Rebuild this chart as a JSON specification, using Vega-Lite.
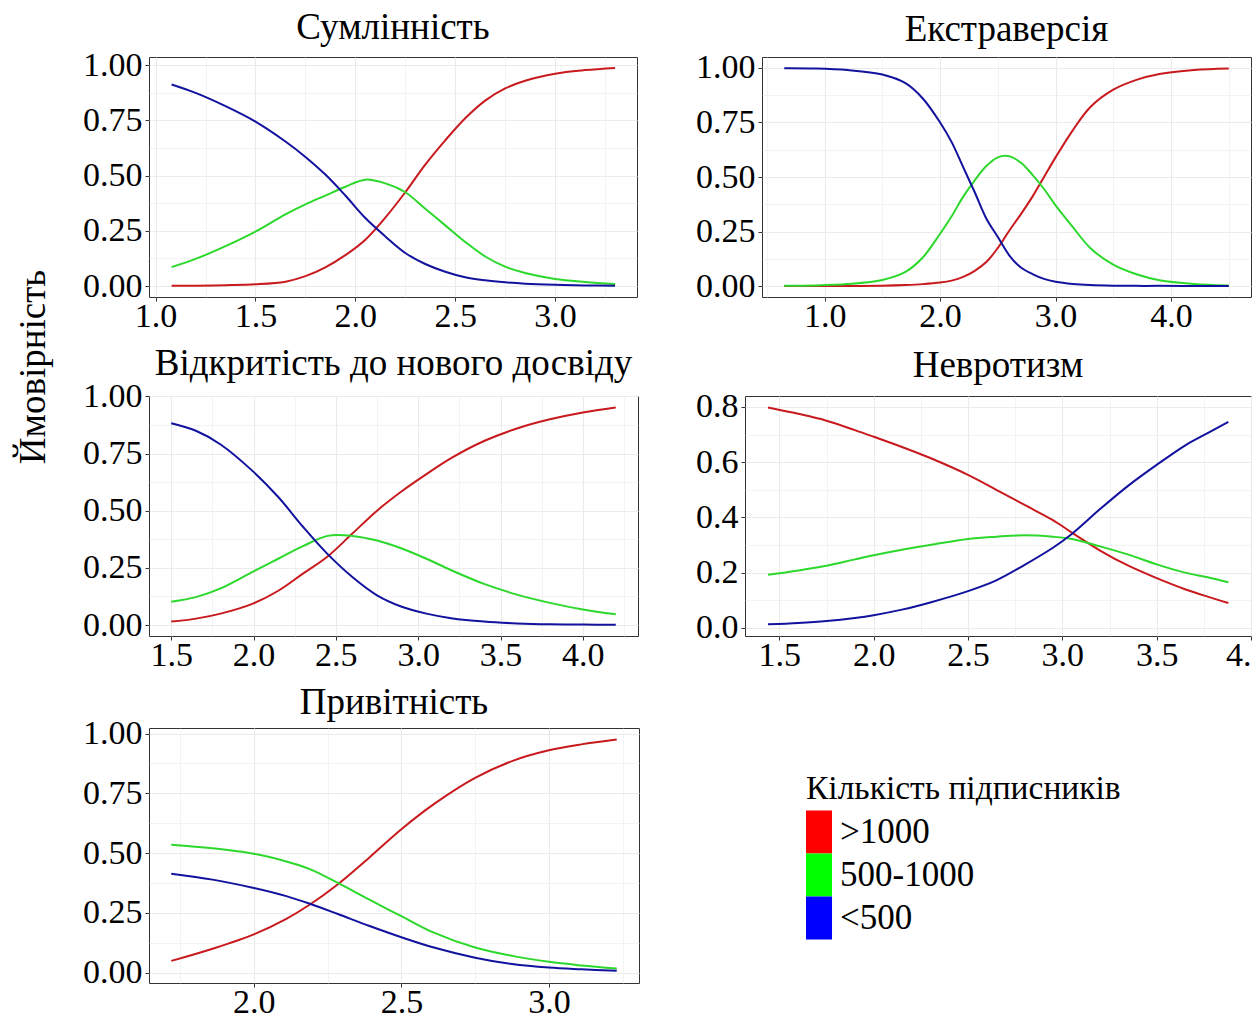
{
  "$schema": "https://vega.github.io/schema/vega-lite/v6.json",
  "background": "white",
  "padding": {"left": 14, "top": 8, "right": 0, "bottom": 0},
  "autosize": {"type": "pad"},
  "bounds": "full",
  "columns": 2,
  "align": {"row": "each", "column": "none"},
  "spacing": {"row": 10, "column": 55},
  "title": {"text": "Ймовірність", "orient": "left", "anchor": "middle", "dx": -310, "offset": 29, "fontSize": 37},
  "datasets": {
    "p1": [
      {"x": 1.08, "hi": 0.001, "mid": 0.086, "lo": 0.913},
      {"x": 1.2, "hi": 0.002, "mid": 0.123, "lo": 0.875},
      {"x": 1.35, "hi": 0.004, "mid": 0.181, "lo": 0.815},
      {"x": 1.5, "hi": 0.008, "mid": 0.247, "lo": 0.745},
      {"x": 1.65, "hi": 0.02, "mid": 0.325, "lo": 0.655},
      {"x": 1.75, "hi": 0.045, "mid": 0.37, "lo": 0.585},
      {"x": 1.85, "hi": 0.085, "mid": 0.41, "lo": 0.505},
      {"x": 1.95, "hi": 0.14, "mid": 0.45, "lo": 0.41},
      {"x": 2.05, "hi": 0.21, "mid": 0.482, "lo": 0.308},
      {"x": 2.15, "hi": 0.31, "mid": 0.465, "lo": 0.225},
      {"x": 2.25, "hi": 0.425, "mid": 0.425, "lo": 0.15},
      {"x": 2.35, "hi": 0.55, "mid": 0.35, "lo": 0.1},
      {"x": 2.45, "hi": 0.66, "mid": 0.275, "lo": 0.065},
      {"x": 2.55, "hi": 0.76, "mid": 0.2, "lo": 0.04},
      {"x": 2.65, "hi": 0.84, "mid": 0.134, "lo": 0.026},
      {"x": 2.75, "hi": 0.895, "mid": 0.088, "lo": 0.017},
      {"x": 2.85, "hi": 0.93, "mid": 0.059, "lo": 0.011},
      {"x": 3.0, "hi": 0.962, "mid": 0.032, "lo": 0.006},
      {"x": 3.15, "hi": 0.978, "mid": 0.019, "lo": 0.003},
      {"x": 3.3, "hi": 0.988, "mid": 0.01, "lo": 0.002}
    ],
    "p2": [
      {"x": 0.65, "hi": 0.0, "mid": 0.002, "lo": 0.998},
      {"x": 0.9, "hi": 0.0, "mid": 0.003, "lo": 0.997},
      {"x": 1.2, "hi": 0.0005, "mid": 0.0095, "lo": 0.99},
      {"x": 1.5, "hi": 0.002, "mid": 0.028, "lo": 0.97},
      {"x": 1.7, "hi": 0.005, "mid": 0.065, "lo": 0.93},
      {"x": 1.85, "hi": 0.009, "mid": 0.131, "lo": 0.86},
      {"x": 2.0, "hi": 0.016, "mid": 0.24, "lo": 0.75},
      {"x": 2.1, "hi": 0.025, "mid": 0.32, "lo": 0.66},
      {"x": 2.2, "hi": 0.042, "mid": 0.41, "lo": 0.545},
      {"x": 2.3, "hi": 0.07, "mid": 0.485, "lo": 0.43},
      {"x": 2.4, "hi": 0.11, "mid": 0.55, "lo": 0.31},
      {"x": 2.5, "hi": 0.175, "mid": 0.59, "lo": 0.225},
      {"x": 2.6, "hi": 0.255, "mid": 0.595, "lo": 0.14},
      {"x": 2.7, "hi": 0.33, "mid": 0.565, "lo": 0.085},
      {"x": 2.8, "hi": 0.41, "mid": 0.51, "lo": 0.055},
      {"x": 2.9, "hi": 0.5, "mid": 0.445, "lo": 0.033},
      {"x": 3.0, "hi": 0.59, "mid": 0.37, "lo": 0.02},
      {"x": 3.15, "hi": 0.715, "mid": 0.27, "lo": 0.01},
      {"x": 3.3, "hi": 0.82, "mid": 0.175, "lo": 0.005},
      {"x": 3.5, "hi": 0.9, "mid": 0.098, "lo": 0.002},
      {"x": 3.7, "hi": 0.945, "mid": 0.054, "lo": 0.001},
      {"x": 3.9, "hi": 0.972, "mid": 0.027, "lo": 0.001},
      {"x": 4.2, "hi": 0.99, "mid": 0.01, "lo": 0.0},
      {"x": 4.5, "hi": 0.997, "mid": 0.003, "lo": 0.0}
    ],
    "p3": [
      {"x": 1.5, "hi": 0.015, "mid": 0.102, "lo": 0.883},
      {"x": 1.65, "hi": 0.028, "mid": 0.122, "lo": 0.85},
      {"x": 1.8, "hi": 0.05, "mid": 0.16, "lo": 0.79},
      {"x": 2.0, "hi": 0.095, "mid": 0.235, "lo": 0.67},
      {"x": 2.15, "hi": 0.15, "mid": 0.29, "lo": 0.56},
      {"x": 2.3, "hi": 0.225, "mid": 0.345, "lo": 0.43},
      {"x": 2.45, "hi": 0.3, "mid": 0.39, "lo": 0.31},
      {"x": 2.6, "hi": 0.4, "mid": 0.39, "lo": 0.21},
      {"x": 2.75, "hi": 0.5, "mid": 0.37, "lo": 0.13},
      {"x": 2.9, "hi": 0.585, "mid": 0.335, "lo": 0.08},
      {"x": 3.05, "hi": 0.66, "mid": 0.29, "lo": 0.05},
      {"x": 3.2, "hi": 0.73, "mid": 0.24, "lo": 0.03},
      {"x": 3.4, "hi": 0.805, "mid": 0.18, "lo": 0.015},
      {"x": 3.6, "hi": 0.86, "mid": 0.133, "lo": 0.007},
      {"x": 3.8, "hi": 0.9, "mid": 0.097, "lo": 0.003},
      {"x": 4.0, "hi": 0.93, "mid": 0.068, "lo": 0.002},
      {"x": 4.2, "hi": 0.952, "mid": 0.047, "lo": 0.001}
    ],
    "p4": [
      {"x": 1.44, "hi": 0.798, "mid": 0.192, "lo": 0.013},
      {"x": 1.6, "hi": 0.775, "mid": 0.208, "lo": 0.018},
      {"x": 1.75, "hi": 0.75, "mid": 0.225, "lo": 0.025},
      {"x": 1.9, "hi": 0.716, "mid": 0.248, "lo": 0.036},
      {"x": 2.0, "hi": 0.692, "mid": 0.263, "lo": 0.046},
      {"x": 2.15, "hi": 0.655, "mid": 0.283, "lo": 0.066},
      {"x": 2.3, "hi": 0.615, "mid": 0.3, "lo": 0.092},
      {"x": 2.5, "hi": 0.554, "mid": 0.322, "lo": 0.133},
      {"x": 2.65, "hi": 0.5, "mid": 0.33, "lo": 0.172},
      {"x": 2.8, "hi": 0.445, "mid": 0.335, "lo": 0.228},
      {"x": 2.95, "hi": 0.39, "mid": 0.33, "lo": 0.29},
      {"x": 3.05, "hi": 0.345, "mid": 0.322, "lo": 0.34},
      {"x": 3.2, "hi": 0.28, "mid": 0.295, "lo": 0.43},
      {"x": 3.35, "hi": 0.225, "mid": 0.265, "lo": 0.515},
      {"x": 3.5, "hi": 0.18, "mid": 0.23, "lo": 0.59},
      {"x": 3.65, "hi": 0.14, "mid": 0.2, "lo": 0.66},
      {"x": 3.77, "hi": 0.113, "mid": 0.183, "lo": 0.705},
      {"x": 3.88, "hi": 0.09, "mid": 0.165, "lo": 0.746}
    ],
    "p5": [
      {"x": 1.72, "hi": 0.049, "mid": 0.535, "lo": 0.414},
      {"x": 1.86, "hi": 0.1, "mid": 0.52, "lo": 0.389},
      {"x": 2.0, "hi": 0.16, "mid": 0.497, "lo": 0.354},
      {"x": 2.11, "hi": 0.225, "mid": 0.465, "lo": 0.32},
      {"x": 2.19, "hi": 0.285, "mid": 0.433, "lo": 0.288},
      {"x": 2.285, "hi": 0.37, "mid": 0.375, "lo": 0.245},
      {"x": 2.39, "hi": 0.48, "mid": 0.306, "lo": 0.196},
      {"x": 2.5, "hi": 0.6, "mid": 0.236, "lo": 0.148},
      {"x": 2.61, "hi": 0.705, "mid": 0.167, "lo": 0.105},
      {"x": 2.75, "hi": 0.815, "mid": 0.105, "lo": 0.0625},
      {"x": 2.875, "hi": 0.885, "mid": 0.07, "lo": 0.036},
      {"x": 3.0, "hi": 0.93, "mid": 0.045, "lo": 0.021},
      {"x": 3.11, "hi": 0.955, "mid": 0.03, "lo": 0.014},
      {"x": 3.23, "hi": 0.975, "mid": 0.017, "lo": 0.008}
    ]
  },
  "concat": [
    {
      "width": 488, "height": 240,
      "title": {"text": "Сумлінність", "offset": 1},
      "data": {"name": "p1"},
      "transform": [{"fold": ["hi", "mid", "lo"], "as": ["g", "p"]}],
      "mark": {"type": "line", "interpolate": "catmull-rom", "strokeWidth": 2},
      "encoding": {
        "x": {"field": "x", "type": "quantitative", "scale": {"domain": [0.967, 3.41], "nice": false, "zero": false},
          "axis": {"title": null, "values": [1, 1.25, 1.5, 1.75, 2, 2.25, 2.5, 2.75, 3, 3.25], "format": ".1f",
            "labelExpr": "abs(datum.value*2-round(datum.value*2))>0.01 ? '' : datum.label",
            "tickOpacity": {"condition": {"test": "abs(datum.value*2-round(datum.value*2))>0.01", "value": 0}, "value": 1},
            "gridWidth": {"condition": {"test": "abs(datum.value*2-round(datum.value*2))>0.01", "value": 0.6}, "value": 1.1}}},
        "y": {"field": "p", "type": "quantitative", "scale": {"domain": [-0.0494, 1.0374], "nice": false, "zero": false},
          "axis": {"title": null, "values": [0, 0.125, 0.25, 0.375, 0.5, 0.625, 0.75, 0.875, 1], "format": ".2f",
            "labelExpr": "abs(datum.value*4-round(datum.value*4))>0.01 ? '' : datum.label",
            "tickOpacity": {"condition": {"test": "abs(datum.value*4-round(datum.value*4))>0.01", "value": 0}, "value": 1},
            "gridWidth": {"condition": {"test": "abs(datum.value*4-round(datum.value*4))>0.01", "value": 0.6}, "value": 1.1}}},
        "color": {"field": "g", "type": "nominal", "scale": {"domain": ["hi", "mid", "lo"], "range": ["#c81a1e", "#2cd82c", "#12129e"]}}
      }
    },
    {
      "width": 489, "height": 240,
      "title": {"text": "Екстраверсія", "offset": 2},
      "data": {"name": "p2"},
      "transform": [{"fold": ["hi", "mid", "lo"], "as": ["g", "p"]}],
      "mark": {"type": "line", "interpolate": "catmull-rom", "strokeWidth": 2},
      "encoding": {
        "x": {"field": "x", "type": "quantitative", "scale": {"domain": [0.4575, 4.6925], "nice": false, "zero": false},
          "axis": {"title": null, "values": [0.5, 1, 1.5, 2, 2.5, 3, 3.5, 4, 4.5], "format": ".1f",
            "labelExpr": "abs(datum.value-round(datum.value))>0.01 ? '' : datum.label",
            "tickOpacity": {"condition": {"test": "abs(datum.value-round(datum.value))>0.01", "value": 0}, "value": 1},
            "gridWidth": {"condition": {"test": "abs(datum.value-round(datum.value))>0.01", "value": 0.6}, "value": 1.1}}},
        "y": {"field": "p", "type": "quantitative", "scale": {"domain": [-0.05, 1.05], "nice": false, "zero": false},
          "axis": {"title": null, "values": [0, 0.125, 0.25, 0.375, 0.5, 0.625, 0.75, 0.875, 1], "format": ".2f",
            "labelExpr": "abs(datum.value*4-round(datum.value*4))>0.01 ? '' : datum.label",
            "tickOpacity": {"condition": {"test": "abs(datum.value*4-round(datum.value*4))>0.01", "value": 0}, "value": 1},
            "gridWidth": {"condition": {"test": "abs(datum.value*4-round(datum.value*4))>0.01", "value": 0.6}, "value": 1.1}}},
        "color": {"field": "g", "type": "nominal", "scale": {"domain": ["hi", "mid", "lo"], "range": ["#c81a1e", "#2cd82c", "#12129e"]}}
      }
    },
    {
      "width": 489, "height": 240,
      "title": {"text": "Відкритість до нового досвіду", "offset": -4},
      "data": {"name": "p3"},
      "transform": [{"fold": ["hi", "mid", "lo"], "as": ["g", "p"]}],
      "mark": {"type": "line", "interpolate": "catmull-rom", "strokeWidth": 2},
      "encoding": {
        "x": {"field": "x", "type": "quantitative", "scale": {"domain": [1.365, 4.335], "nice": false, "zero": false},
          "axis": {"title": null, "values": [1.5, 1.75, 2, 2.25, 2.5, 2.75, 3, 3.25, 3.5, 3.75, 4, 4.25], "format": ".1f",
            "labelExpr": "abs(datum.value*2-round(datum.value*2))>0.01 ? '' : datum.label",
            "tickOpacity": {"condition": {"test": "abs(datum.value*2-round(datum.value*2))>0.01", "value": 0}, "value": 1},
            "gridWidth": {"condition": {"test": "abs(datum.value*2-round(datum.value*2))>0.01", "value": 0.6}, "value": 1.1}}},
        "y": {"field": "p", "type": "quantitative", "scale": {"domain": [-0.048, 1.002], "nice": false, "zero": false},
          "axis": {"title": null, "values": [0, 0.125, 0.25, 0.375, 0.5, 0.625, 0.75, 0.875, 1], "format": ".2f",
            "labelExpr": "abs(datum.value*4-round(datum.value*4))>0.01 ? '' : datum.label",
            "tickOpacity": {"condition": {"test": "abs(datum.value*4-round(datum.value*4))>0.01", "value": 0}, "value": 1},
            "gridWidth": {"condition": {"test": "abs(datum.value*4-round(datum.value*4))>0.01", "value": 0.6}, "value": 1.1}}},
        "color": {"field": "g", "type": "nominal", "scale": {"domain": ["hi", "mid", "lo"], "range": ["#c81a1e", "#2cd82c", "#12129e"]}}
      }
    },
    {
      "width": 506, "height": 240,
      "title": {"text": "Невротизм", "offset": 5},
      "data": {"name": "p4"},
      "transform": [{"fold": ["hi", "mid", "lo"], "as": ["g", "p"]}],
      "mark": {"type": "line", "interpolate": "catmull-rom", "strokeWidth": 2},
      "encoding": {
        "x": {"field": "x", "type": "quantitative", "scale": {"domain": [1.318, 4.0], "nice": false, "zero": false},
          "axis": {"title": null, "values": [1.5, 1.75, 2, 2.25, 2.5, 2.75, 3, 3.25, 3.5, 3.75, 4], "format": ".1f",
            "labelExpr": "datum.value > 3.99 ? '4.' : (abs(datum.value*2-round(datum.value*2))>0.01 ? '' : datum.label)",
            "labelAlign": {"condition": {"test": "datum.value > 3.99", "value": "right"}, "value": "center"},
            "tickOpacity": {"condition": {"test": "abs(datum.value*2-round(datum.value*2))>0.01", "value": 0}, "value": 1},
            "gridWidth": {"condition": {"test": "abs(datum.value*2-round(datum.value*2))>0.01", "value": 0.6}, "value": 1.1}}},
        "y": {"field": "p", "type": "quantitative", "scale": {"domain": [-0.0295, 0.8395], "nice": false, "zero": false},
          "axis": {"title": null, "values": [0, 0.1, 0.2, 0.3, 0.4, 0.5, 0.6, 0.7, 0.8], "format": ".1f",
            "labelExpr": "abs(datum.value*5-round(datum.value*5))>0.01 ? '' : datum.label",
            "tickOpacity": {"condition": {"test": "abs(datum.value*5-round(datum.value*5))>0.01", "value": 0}, "value": 1},
            "gridWidth": {"condition": {"test": "abs(datum.value*5-round(datum.value*5))>0.01", "value": 0.6}, "value": 1.1}}},
        "color": {"field": "g", "type": "nominal", "scale": {"domain": ["hi", "mid", "lo"], "range": ["#c81a1e", "#2cd82c", "#12129e"]}}
      }
    },
    {
      "width": 490, "height": 255,
      "title": {"text": "Привітність", "offset": -5.7},
      "data": {"name": "p5"},
      "transform": [{"fold": ["hi", "mid", "lo"], "as": ["g", "p"]}],
      "mark": {"type": "line", "interpolate": "catmull-rom", "strokeWidth": 2},
      "encoding": {
        "x": {"field": "x", "type": "quantitative", "scale": {"domain": [1.6445, 3.3055], "nice": false, "zero": false},
          "axis": {"title": null, "values": [1.75, 2, 2.25, 2.5, 2.75, 3, 3.25], "format": ".1f",
            "labelExpr": "abs(datum.value*2-round(datum.value*2))>0.01 ? '' : datum.label",
            "tickOpacity": {"condition": {"test": "abs(datum.value*2-round(datum.value*2))>0.01", "value": 0}, "value": 1},
            "gridWidth": {"condition": {"test": "abs(datum.value*2-round(datum.value*2))>0.01", "value": 0.6}, "value": 1.1}}},
        "y": {"field": "p", "type": "quantitative", "scale": {"domain": [-0.0435, 1.0235], "nice": false, "zero": false},
          "axis": {"title": null, "values": [0, 0.125, 0.25, 0.375, 0.5, 0.625, 0.75, 0.875, 1], "format": ".2f",
            "labelExpr": "abs(datum.value*4-round(datum.value*4))>0.01 ? '' : datum.label",
            "tickOpacity": {"condition": {"test": "abs(datum.value*4-round(datum.value*4))>0.01", "value": 0}, "value": 1},
            "gridWidth": {"condition": {"test": "abs(datum.value*4-round(datum.value*4))>0.01", "value": 0.6}, "value": 1.1}}},
        "color": {"field": "g", "type": "nominal", "scale": {"domain": ["hi", "mid", "lo"], "range": ["#c81a1e", "#2cd82c", "#12129e"]},
          "legend": {
            "orient": "none", "legendX": 657, "legendY": 716,
            "title": "Кількість підписників",
            "titleFont": "Liberation Serif", "titleFontSize": 33.5, "titleFontWeight": "normal", "titleColor": "#000000", "titlePadding": 4, "titleLimit": 500,
            "labelFont": "Liberation Serif", "labelFontSize": 35, "labelColor": "#000000", "labelOffset": -9, "labelLimit": 300,
            "labelExpr": "datum.value == 'hi' ? '>1000' : datum.value == 'mid' ? '500-1000' : '<500'",
            "symbolType": "M-1,-1h1.21v2h-1.21z", "symbolSize": 1849, "symbolStrokeWidth": 0, "rowPadding": 0, "padding": 0,
            "encode": {"symbols": {"update": {
              "fill": {"signal": "datum.value == 'hi' ? '#ff0000' : datum.value == 'mid' ? '#00ff00' : '#0000ff'"},
              "stroke": {"value": "transparent"},
              "opacity": {"value": 1},
              "shape": {"value": "M-1,-1h1.21v2h-1.21z"},
              "size": {"value": 1849}
            }}}
          }}
      }
    }
  ],
  "config": {
    "font": "Liberation Serif",
    "view": {"stroke": "#333333", "strokeWidth": 1},
    "axis": {"labelFont": "Liberation Serif", "labelFontSize": 34, "labelColor": "#000000", "tickColor": "#333333", "tickSize": 4, "tickWidth": 1, "domain": false, "gridColor": "#ebebeb", "labelFlush": false, "labelOverlap": false},
    "axisX": {"labelPadding": -2},
    "axisY": {"labelPadding": 3},
    "title": {"font": "Liberation Serif", "fontSize": 37, "fontWeight": "normal", "color": "#000000", "frame": "group", "anchor": "middle", "baseline": "alphabetic", "offset": 17}
  }
}
